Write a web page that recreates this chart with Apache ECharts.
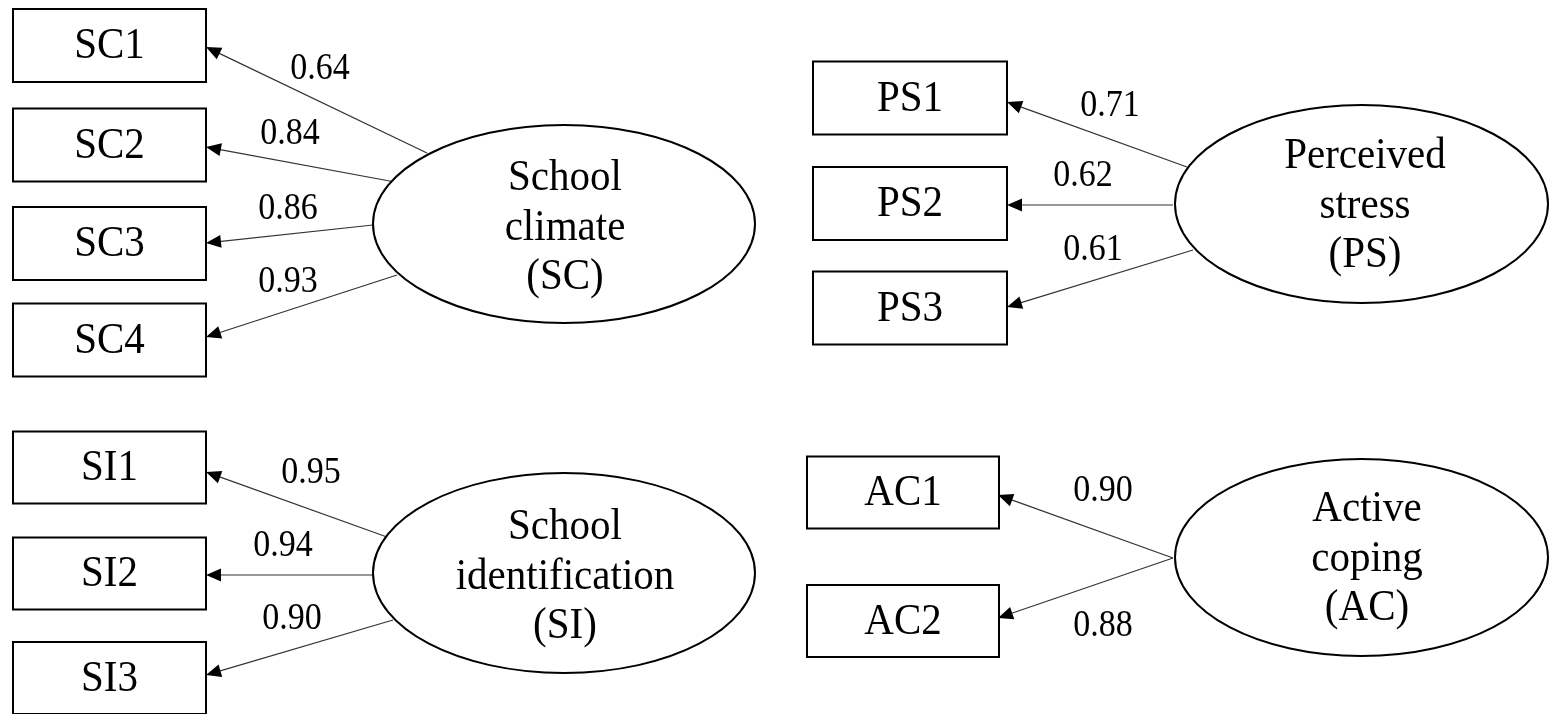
<!DOCTYPE html>
<html><head><meta charset="utf-8">
<script src="https://cdn.jsdelivr.net/npm/echarts@6/dist/echarts.min.js"></script>
<style>html,body{margin:0;padding:0;background:#fff}#c{width:1549px;height:714px}</style>
</head><body><div id="c"></div><script>
// ---- data ----
const scIndicators = ['SC1', 'SC2', 'SC3', 'SC4'];
const scLoadings = [0.64, 0.84, 0.86, 0.93];
const psIndicators = ['PS1', 'PS2', 'PS3'];
const psLoadings = [0.71, 0.62, 0.61];
const siIndicators = ['SI1', 'SI2', 'SI3'];
const siLoadings = [0.95, 0.94, 0.90];
const acIndicators = ['AC1', 'AC2'];
const acLoadings = [0.90, 0.88];
const latentLabels = ['School\nclimate\n(SC)', 'Perceived\nstress\n(PS)', 'School\nidentification\n(SI)', 'Active\ncoping\n(AC)'];

// ---- layout (diagram coordinates) ----
const latentLayout = [
  {cx: 564, cy: 224, rx: 191, ry: 99, tx: 565, ty: 228},
  {cx: 1361.5, cy: 204, rx: 186.5, ry: 99, tx: 1365, ty: 206},
  {cx: 564, cy: 573, rx: 191, ry: 100, tx: 565, ty: 577},
  {cx: 1361.5, cy: 557.5, rx: 186.5, ry: 98.5, tx: 1367, ty: 559}
];
const boxLayout = [
  {cx: 109.5, w: 193, h: 73, cy: [45.5, 145, 243.5, 340]},
  {cx: 910, w: 194, h: 73, cy: [98, 203.5, 308]},
  {cx: 109.5, w: 193, h: 72, cy: [467.5, 573.5, 678]},
  {cx: 903, w: 192, h: 72, cy: [492.5, 621]}
];
const arrowLayout = [
  [[427, 153, 206, 47], [395, 182, 206, 147], [373, 225, 206, 243], [397, 275, 206, 337]],
  [[1187, 167, 1007, 102], [1173, 205, 1007, 205], [1193, 250, 1007, 307]],
  [[387, 537, 206, 472], [373, 575, 206, 575], [393, 620, 206, 675]],
  [[1173, 558, 998, 495], [1173, 558, 998, 618]]
];
const labelLayout = [
  [[320, 68], [290, 133], [288, 208], [288, 281]],
  [[1110, 105], [1083, 175], [1093, 249]],
  [[311, 472], [283, 545], [292, 618]],
  [[1103, 490], [1103, 625]]
];

const groups = [
  {ind: scIndicators, load: scLoadings},
  {ind: psIndicators, load: psLoadings},
  {ind: siIndicators, load: siLoadings},
  {ind: acIndicators, load: acLoadings}
];

const boxData = [], boxNames = [], arrowData = [], labelData = [], latentData = [];
groups.forEach((g, gi) => {
  const bl = boxLayout[gi];
  g.ind.forEach((name, i) => {
    boxData.push([bl.cx, bl.cy[i], bl.w, bl.h]);
    boxNames.push(name);
    arrowData.push(arrowLayout[gi][i]);
    labelData.push([labelLayout[gi][i][0], labelLayout[gi][i][1], g.load[i]]);
  });
  const L = latentLayout[gi];
  latentData.push([L.cx, L.cy, L.rx, L.ry, L.tx, L.ty]);
});

const FONT = '"Liberation Serif", "Times New Roman", serif';
const SY = 1.1;

const chart = echarts.init(document.getElementById('c'), null, {renderer: 'canvas'});
chart.setOption({
  animation: false,
  backgroundColor: '#fff',
  grid: {left: 0, right: 0, top: 0, bottom: 0},
  xAxis: {type: 'value', min: 0, max: 1549, show: false},
  yAxis: {type: 'value', min: 0, max: 714, inverse: true, show: false},
  series: [
    {
      type: 'custom', z: 1, clip: false, data: arrowData,
      renderItem: (params, api) => {
        const p1 = api.coord([api.value(0), api.value(1)]);
        const p2 = api.coord([api.value(2), api.value(3)]);
        const dx = p2[0] - p1[0], dy = p2[1] - p1[1];
        const len = Math.sqrt(dx * dx + dy * dy);
        const ux = dx / len, uy = dy / len;
        const aL = 15, aW = 6.5;
        const bx = p2[0] - ux * aL, by = p2[1] - uy * aL;
        return {
          type: 'group',
          children: [
            {type: 'line', shape: {x1: p1[0], y1: p1[1], x2: bx + ux * 2, y2: by + uy * 2},
             style: {stroke: '#333', lineWidth: 1.2}},
            {type: 'polygon', shape: {points: [[p2[0], p2[1]], [bx - uy * aW, by + ux * aW], [bx + uy * aW, by - ux * aW]]},
             style: {fill: '#000'}}
          ]
        };
      }
    },
    {
      type: 'custom', z: 2, clip: false, data: boxData,
      renderItem: (params, api) => {
        const c = api.coord([api.value(0), api.value(1)]);
        const s = api.size([api.value(2), api.value(3)]);
        return {
          type: 'group',
          children: [
            {type: 'rect', shape: {x: c[0] - s[0] / 2, y: c[1] - s[1] / 2, width: s[0], height: s[1]},
             style: {fill: '#fff', stroke: '#000', lineWidth: 2}},
            {type: 'text', x: c[0], y: c[1] + 1, scaleY: SY,
             style: {text: boxNames[params.dataIndex], x: 0, y: 0,
             fill: '#000', fontSize: 41, fontFamily: FONT, align: 'center', verticalAlign: 'middle'}}
          ]
        };
      }
    },
    {
      type: 'custom', z: 2, clip: false, data: latentData,
      renderItem: (params, api) => {
        const c = api.coord([api.value(0), api.value(1)]);
        const r = api.size([api.value(2), api.value(3)]);
        const t = api.coord([api.value(4), api.value(5)]);
        return {
          type: 'group',
          children: [
            {type: 'ellipse', shape: {cx: c[0], cy: c[1], rx: r[0], ry: r[1]},
             style: {fill: '#fff', stroke: '#000', lineWidth: 2}},
            {type: 'text', x: t[0], y: t[1], scaleY: SY,
             style: {text: latentLabels[params.dataIndex], x: 0, y: 0,
             fill: '#000', fontSize: 41, fontFamily: FONT, align: 'center', verticalAlign: 'middle', lineHeight: 45}}
          ]
        };
      }
    },
    {
      type: 'custom', z: 3, clip: false, data: labelData,
      renderItem: (params, api) => {
        const c = api.coord([api.value(0), api.value(1)]);
        return {
          type: 'text', x: c[0], y: c[1] + 1, scaleY: SY,
          style: {text: api.value(2).toFixed(2), x: 0, y: 0,
          fill: '#000', fontSize: 34, fontFamily: FONT, align: 'center', verticalAlign: 'middle'}
        };
      }
    }
  ]
});
</script></body></html>
